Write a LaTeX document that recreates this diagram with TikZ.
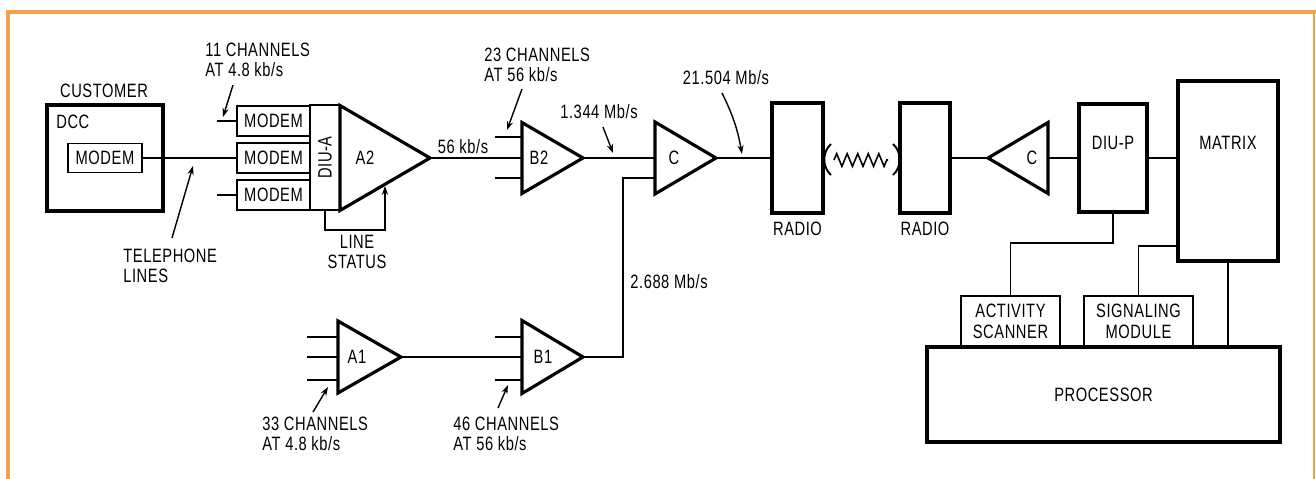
\documentclass[tikz,border=0pt]{standalone}
\usepackage{fontspec}
\setmainfont{Liberation Sans}[FakeStretch=0.76, LetterSpace=3]
\usepackage{tikz}
\usetikzlibrary{positioning, arrows.meta, calc, shapes.geometric, decorations.pathmorphing}
\definecolor{frameorange}{HTML}{F2A24A}

\begin{document}
\begin{tikzpicture}[x=0.02cm, y=-0.02cm,
    font=\fontsize{11pt}{11.6pt}\selectfont,
    box/.style={draw, line width=1.1pt, inner sep=0pt, outer sep=0pt, align=center},
    heavybox/.style={box, line width=1.8pt},
    amp/.style={isosceles triangle, isosceles triangle stretches, draw, line width=1.8pt,
                inner sep=0pt, outer sep=0pt, line join=miter},
    wire/.style={line width=0.8pt},
    ptr/.style={line width=0.8pt, -{Stealth[length=5pt, width=3.5pt]}},
    lbl/.style={inner sep=0pt, align=left},
    orangeframe/.style={draw=frameorange, line width=2pt}]
  \useasboundingbox (0,0) rectangle (1316,479);
  \draw[orangeframe] (8,479) -- (8,12) -- (1316,12);
  \draw[orangeframe, line width=1pt] (1314,12) -- (1314,479);

  % customer side
  \node[lbl] (customer) at (104,91) {CUSTOMER};
  \node[heavybox, minimum width=2.32cm, minimum height=2.12cm] (dcc) at (105,158) {};
  \node[lbl, anchor=west] (dcctxt) at (56,122) {DCC};
  \node[box, minimum width=1.48cm, minimum height=0.58cm] (cmodem) at (105,158) {MODEM};

  % modems, DIU-A and A2
  \node[box, minimum width=1.46cm, minimum height=0.6cm] (modem1) at (273.5,121) {MODEM};
  \node[box, minimum width=1.46cm, minimum height=0.6cm] (modem2) at (273.5,158) {MODEM};
  \node[box, minimum width=1.46cm, minimum height=0.6cm] (modem3) at (273.5,195) {MODEM};
  \node[box, minimum width=0.6cm, minimum height=2.1cm] (diua) at (325,157.5) {};
  \node[rotate=90, inner sep=0pt] (diuatxt) at (diua) {DIU-A};
  \node[amp, minimum height=1.8cm, minimum width=2.1cm, anchor=west] (a2) at (340,158) {};
  \node[lbl] (a2txt) at (365,158) {A2};

  % multiplexers
  \node[amp, minimum height=1.22cm, minimum width=1.42cm, anchor=west] (b2) at (522,158) {};
  \node[lbl] (b2txt) at (539,158) {B2};
  \node[amp, minimum height=1.22cm, minimum width=1.44cm, anchor=west] (cmux) at (655,158) {};
  \node[lbl] (cmuxtxt) at (674,158) {C};
  \node[amp, minimum height=1.26cm, minimum width=1.44cm, anchor=west] (a1) at (338,357) {};
  \node[lbl] (a1txt) at (357,357) {A1};
  \node[amp, minimum height=1.22cm, minimum width=1.46cm, anchor=west] (b1) at (522,357) {};
  \node[lbl] (b1txt) at (543,357) {B1};

  % radio link
  \node[heavybox, minimum width=1.02cm, minimum height=2.2cm] (radio1) at (797.5,158) {};
  \node[lbl] (radio1txt) at (797.5,229) {RADIO};
  \node[heavybox, minimum width=1.0cm, minimum height=2.2cm] (radio2) at (925,158) {};
  \node[lbl] (radio2txt) at (925,229) {RADIO};
  \coordinate (zigl) at (834,160);
  \coordinate (zigr) at (888,160);
  \draw[line width=0.9pt, decorate, decoration={zigzag, amplitude=3.6pt, segment length=6pt}] (zigl) -- (zigr);
  \draw[line width=1.1pt] (831,144) .. controls (822,152) and (822,167) .. (831,175);
  \draw[line width=1.1pt] (893,144) .. controls (902,152) and (902,167) .. (893,175);

  % switching centre
  \node[amp, shape border rotate=180, minimum height=1.2cm, minimum width=1.42cm, anchor=east] (cdemux) at (1048,158) {};
  \node[lbl] (cdemuxtxt) at (1032,158) {C};
  \node[heavybox, minimum width=1.36cm, minimum height=2.16cm] (diup) at (1113,158) {};
  \node[lbl] (diuptxt) at (1113,143) {DIU-P};
  \node[heavybox, minimum width=2.0cm, minimum height=3.6cm] (matrix) at (1228,171) {};
  \node[lbl] (matrixtxt) at (1228,143) {MATRIX};
  \node[heavybox, minimum width=7.06cm, minimum height=1.9cm] (proc) at (1103.5,394.5) {PROCESSOR};
  \node[box, minimum width=1.98cm, minimum height=1.02cm, anchor=south] (actscan) at (1010.5,347) {ACTIVITY\\SCANNER};
  \node[box, minimum width=2.18cm, minimum height=1.02cm, anchor=south] (sigmod) at (1138.5,347) {SIGNALING\\MODULE};

  % connections
  \draw[wire] (cmodem.east) -- (modem2.west);
  \draw[wire] (modem1.west) -- ++(-20,0);
  \draw[wire] (modem3.west) -- ++(-20,0);
  \draw[wire] (a2.apex) -- (b2.west);
  \foreach \dy in {-21,20} \draw[wire] ($(b2.west)+(0,\dy)$) -- ++(-27,0);
  \draw[wire] (b2.apex) -- (cmux.west);
  \draw[wire] (cmux.apex) -- (radio1.west);
  \draw[wire] (b1.apex) -- ++(40,0) |- ($(cmux.west)+(0,20)$);
  \foreach \dy in {-20,0,23} \draw[wire] ($(a1.west)+(0,\dy)$) -- ++(-31,0);
  \draw[wire] (a1.apex) -- (b1.west);
  \foreach \dy in {-20,23} \draw[wire] ($(b1.west)+(0,\dy)$) -- ++(-27,0);
  \draw[wire] (radio2.east) -- (cdemux.apex);
  \draw[wire] (cdemux.east) -- (diup.west);
  \draw[wire] (diup.east) -- (diup.east -| matrix.west);
  \draw[wire] (diup.south) -- ++(0,31) -| (actscan.north);
  \draw[wire] (sigmod.north) |- (matrix.west |- 0,246);
  \draw[wire] (matrix.south) -- (matrix.south |- proc.north);
  \coordinate (stattip) at (385,186);
  \draw[ptr] (diua.south) -- ++(0,20) -| (stattip);

  % rate labels and pointers
  \node[lbl, anchor=west] (ch11) at (205,60) {11 CHANNELS\\AT 4.8 kb/s};
  \node[lbl, anchor=west] (tel) at (123,266) {TELEPHONE\\LINES};
  \node[lbl, align=center] (linestatus) at (357,252) {LINE\\STATUS};
  \node[lbl] (r56) at (463,147) {56 kb/s};
  \node[lbl, anchor=west] (ch23) at (484,65) {23 CHANNELS\\AT 56 kb/s};
  \node[lbl] (r1344) at (599,112) {1.344 Mb/s};
  \node[lbl] (r21504) at (726,78) {21.504 Mb/s};
  \node[lbl, anchor=west] (r2688) at (630,282) {2.688 Mb/s};
  \node[lbl, anchor=west] (ch33) at (262,434) {33 CHANNELS\\AT 4.8 kb/s};
  \node[lbl, anchor=west] (ch46) at (453,434) {46 CHANNELS\\AT 56 kb/s};

  \coordinate (ch11a) at (233,85);   \coordinate (ch11b) at (223,117);
  \coordinate (tela) at (172,238);   \coordinate (telb) at (193,166);
  \coordinate (ch23a) at (522,89);   \coordinate (ch23b) at (507,130);
  \coordinate (r1344a) at (603,127); \coordinate (r1344b) at (613,153);
  \coordinate (r21504a) at (722,93); \coordinate (r21504b) at (742,154);
  \coordinate (ch33a) at (313,412);  \coordinate (ch33b) at (328,387);
  \coordinate (ch46a) at (498,408);  \coordinate (ch46b) at (508,385);
  \draw[ptr] (ch11a) -- (ch11b);
  \draw[ptr] (tela) -- (telb);
  \draw[ptr] (ch23a) -- (ch23b);
  \draw[ptr] (r1344a) -- (r1344b);
  \draw[ptr] (r21504a) to[bend left=8] (r21504b);
  \draw[ptr] (ch33a) -- (ch33b);
  \draw[ptr] (ch46a) -- (ch46b);
\end{tikzpicture}
\end{document}
